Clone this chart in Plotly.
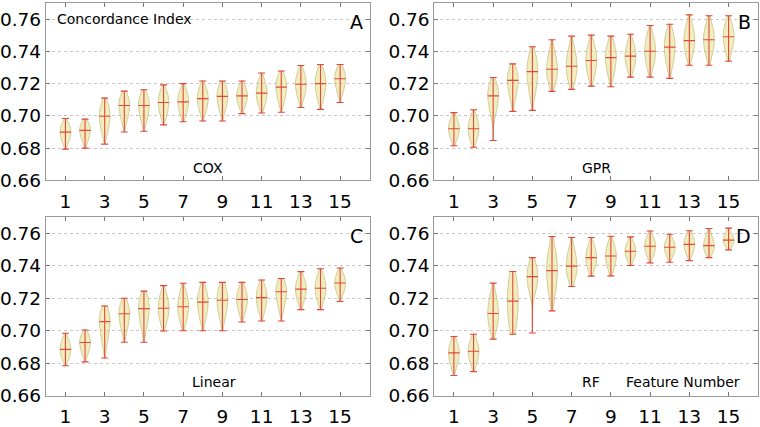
import plotly.graph_objects as go

features = list(range(1, 16))
x_tick_vals = [1, 3, 5, 7, 9, 11, 13, 15]
y_tick_vals = [0.66, 0.68, 0.70, 0.72, 0.74, 0.76]
y_tick_text = ["0.66", "0.68", "0.70", "0.72", "0.74", "0.76"]

# COX: extremes, mean and the approximate lower/upper body of each violin
cox_min = [0.6794, 0.680, 0.6825, 0.690, 0.6905, 0.6944, 0.6964, 0.6968, 0.6968, 0.7014, 0.7018, 0.7022, 0.7052, 0.704, 0.7083]
cox_q1 = [0.6852, 0.6860, 0.6920, 0.6990, 0.6992, 0.7020, 0.7032, 0.7044, 0.7052, 0.7074, 0.7086, 0.7108, 0.7131, 0.7128, 0.7164]
cox_mean = [0.6899, 0.691, 0.6998, 0.7064, 0.7064, 0.7083, 0.7087, 0.7107, 0.7121, 0.7124, 0.7141, 0.7178, 0.7196, 0.720, 0.723]
cox_q3 = [0.6937, 0.6942, 0.7048, 0.7104, 0.7108, 0.7132, 0.7138, 0.7156, 0.7164, 0.7165, 0.7197, 0.7223, 0.7248, 0.7253, 0.7270]
cox_max = [0.6984, 0.698, 0.711, 0.7153, 0.7162, 0.7192, 0.720, 0.7216, 0.7216, 0.7216, 0.7266, 0.7278, 0.7312, 0.7318, 0.7318]

# GPR
gpr_min = [0.6815, 0.6806, 0.6847, 0.7028, 0.7034, 0.7152, 0.7164, 0.7184, 0.718, 0.724, 0.724, 0.7232, 0.7314, 0.7314, 0.7338]
gpr_q1 = [0.6873, 0.6869, 0.7040, 0.7134, 0.7166, 0.7227, 0.7243, 0.7271, 0.7280, 0.7312, 0.7328, 0.7339, 0.7398, 0.7401, 0.7422]
gpr_mean = [0.692, 0.692, 0.7124, 0.722, 0.7274, 0.7289, 0.7307, 0.7343, 0.7361, 0.737, 0.740, 0.7426, 0.7466, 0.7472, 0.749]
gpr_q3 = [0.6965, 0.6973, 0.7175, 0.7266, 0.7343, 0.7371, 0.7391, 0.7414, 0.7421, 0.7431, 0.7472, 0.7490, 0.7538, 0.7539, 0.7549]
gpr_max = [0.702, 0.7038, 0.7238, 0.7322, 0.7428, 0.7472, 0.7494, 0.750, 0.7494, 0.7506, 0.756, 0.7568, 0.7626, 0.762, 0.762]

# Linear
lin_min = [0.6784, 0.6808, 0.6832, 0.6929, 0.6929, 0.6998, 0.700, 0.700, 0.700, 0.7054, 0.706, 0.706, 0.713, 0.713, 0.718]
lin_q1 = [0.6840, 0.6873, 0.6955, 0.7025, 0.7043, 0.7075, 0.7081, 0.7097, 0.7103, 0.7130, 0.7139, 0.7159, 0.7199, 0.7203, 0.7243]
lin_mean = [0.6885, 0.6927, 0.7056, 0.7104, 0.7136, 0.7138, 0.7148, 0.7176, 0.7188, 0.7192, 0.7204, 0.724, 0.7256, 0.7262, 0.7294]
lin_q3 = [0.6930, 0.6962, 0.7099, 0.7147, 0.7185, 0.7201, 0.7213, 0.7231, 0.7238, 0.7240, 0.7253, 0.7277, 0.7305, 0.7316, 0.7335]
lin_max = [0.6984, 0.7004, 0.7152, 0.720, 0.7244, 0.7278, 0.7292, 0.7298, 0.7298, 0.7298, 0.7312, 0.7322, 0.7364, 0.7382, 0.7386]

# RF
rf_min = [0.6724, 0.6748, 0.6948, 0.6978, 0.6986, 0.7122, 0.7272, 0.7336, 0.7338, 0.7402, 0.7418, 0.7422, 0.7432, 0.745, 0.7498]
rf_q1 = [0.6800, 0.6817, 0.7035, 0.7060, 0.7260, 0.7258, 0.7341, 0.7399, 0.7405, 0.7450, 0.7474, 0.7473, 0.7487, 0.7491, 0.7531]
rf_mean = [0.6863, 0.6873, 0.7106, 0.7182, 0.7333, 0.737, 0.7398, 0.745, 0.746, 0.749, 0.752, 0.7514, 0.7532, 0.7524, 0.7558]
rf_q3 = [0.6908, 0.6920, 0.7190, 0.7300, 0.7395, 0.7465, 0.7478, 0.7506, 0.7515, 0.7530, 0.7562, 0.7550, 0.7570, 0.7572, 0.7591]
rf_max = [0.6964, 0.6978, 0.7293, 0.7365, 0.745, 0.758, 0.7574, 0.7574, 0.7582, 0.7578, 0.7614, 0.7594, 0.7616, 0.763, 0.7632]

panels = [
    ("x", "y", cox_min, cox_q1, cox_mean, cox_q3, cox_max),
    ("x2", "y2", gpr_min, gpr_q1, gpr_mean, gpr_q3, gpr_max),
    ("x3", "y3", lin_min, lin_q1, lin_mean, lin_q3, lin_max),
    ("x4", "y4", rf_min, rf_q1, rf_mean, rf_q3, rf_max),
]

FILL = "rgba(224,214,110,0.45)"
EDGE = "rgba(185,180,110,0.75)"
RED = "#e2483c"

fig = go.Figure()
for xa, ya, mins, q1s, means, q3s, maxs in panels:
    for f, lo, a, mu, b, hi in zip(features, mins, q1s, means, q3s, maxs):
        samples = [a, mu, b]
        fig.add_trace(go.Violin(
            x=[f] * len(samples), y=samples, xaxis=xa, yaxis=ya,
            width=0.55, spanmode="manual", span=[lo, hi], points=False,
            fillcolor=FILL, line=dict(color=EDGE, width=0.8),
            box=dict(visible=False), meanline=dict(visible=False),
            hoverinfo="skip", showlegend=False, scalemode="width",
        ))
    fig.add_trace(go.Scatter(
        x=features, y=means, xaxis=xa, yaxis=ya, mode="markers",
        marker=dict(symbol="line-ew", size=8, line=dict(width=1.1, color=RED), color=RED),
        error_y=dict(type="data", symmetric=False,
                     array=[h - m for h, m in zip(maxs, means)],
                     arrayminus=[m - l for l, m in zip(mins, means)],
                     color=RED, thickness=1.1, width=3.5),
        hoverinfo="skip", showlegend=False,
    ))

W, H = 760, 427
xdomA = [43 / W, 368 / W]
xdomB = [433 / W, 758 / W]
ydomTop = [1 - 187 / H, 1 - 3 / H]
ydomBot = [1 - 410 / H, 1 - 225 / H]

font_family = "DejaVu Sans"
axis_common = dict(showline=True, linecolor="#9a9a9a", linewidth=1, mirror="ticks",
                   ticks="inside", ticklen=4, tickcolor="#777", zeroline=False,
                   tickfont=dict(size=18.5, color="black", family=font_family))

def xax(dom, anchor):
    return dict(domain=dom, anchor=anchor, range=[0, 16.5], tickvals=x_tick_vals,
                showgrid=False, ticklabelstandoff=4, **axis_common)

def yax(dom, anchor):
    return dict(domain=dom, anchor=anchor, range=[0.66, 0.77], tickvals=y_tick_vals,
                ticktext=y_tick_text, showgrid=True, gridcolor="#c8c8c8",
                griddash="dot", gridwidth=1, **axis_common)

fig.update_layout(
    width=W, height=H, margin=dict(l=0, r=0, t=0, b=0),
    paper_bgcolor="white", plot_bgcolor="white",
    font=dict(family=font_family, color="black"),
    violinmode="overlay",
    xaxis=xax(xdomA, "y"), yaxis=yax(ydomTop, "x"),
    xaxis2=xax(xdomB, "y2"), yaxis2=yax(ydomTop, "x2"),
    xaxis3=xax(xdomA, "y3"), yaxis3=yax(ydomBot, "x3"),
    xaxis4=xax(xdomB, "y4"), yaxis4=yax(ydomBot, "x4"),
)

def ann(text, x, y, size, xanchor="center"):
    fig.add_annotation(text=text, x=x / W, y=1 - y / H, xref="paper", yref="paper",
                       xanchor=xanchor, yanchor="middle", showarrow=False,
                       font=dict(size=size, color="black", family=font_family))

ann("Concordance Index", 52, 20, 14, "left")
ann("A", 363, 23, 19, "right")
ann("COX", 206, 174, 14)
ann("B", 753, 23, 19, "right")
ann("GPR", 596, 174, 14)
ann("C", 363, 245, 19, "right")
ann("Linear", 212, 396, 14)
ann("D", 753, 245, 19, "right")
ann("RF", 590, 396, 14)
ann("Feature Number", 683, 396, 14)

fig.write_html("out.html", config={"displayModeBar": False},
               post_script="document.body.style.margin='0';")
